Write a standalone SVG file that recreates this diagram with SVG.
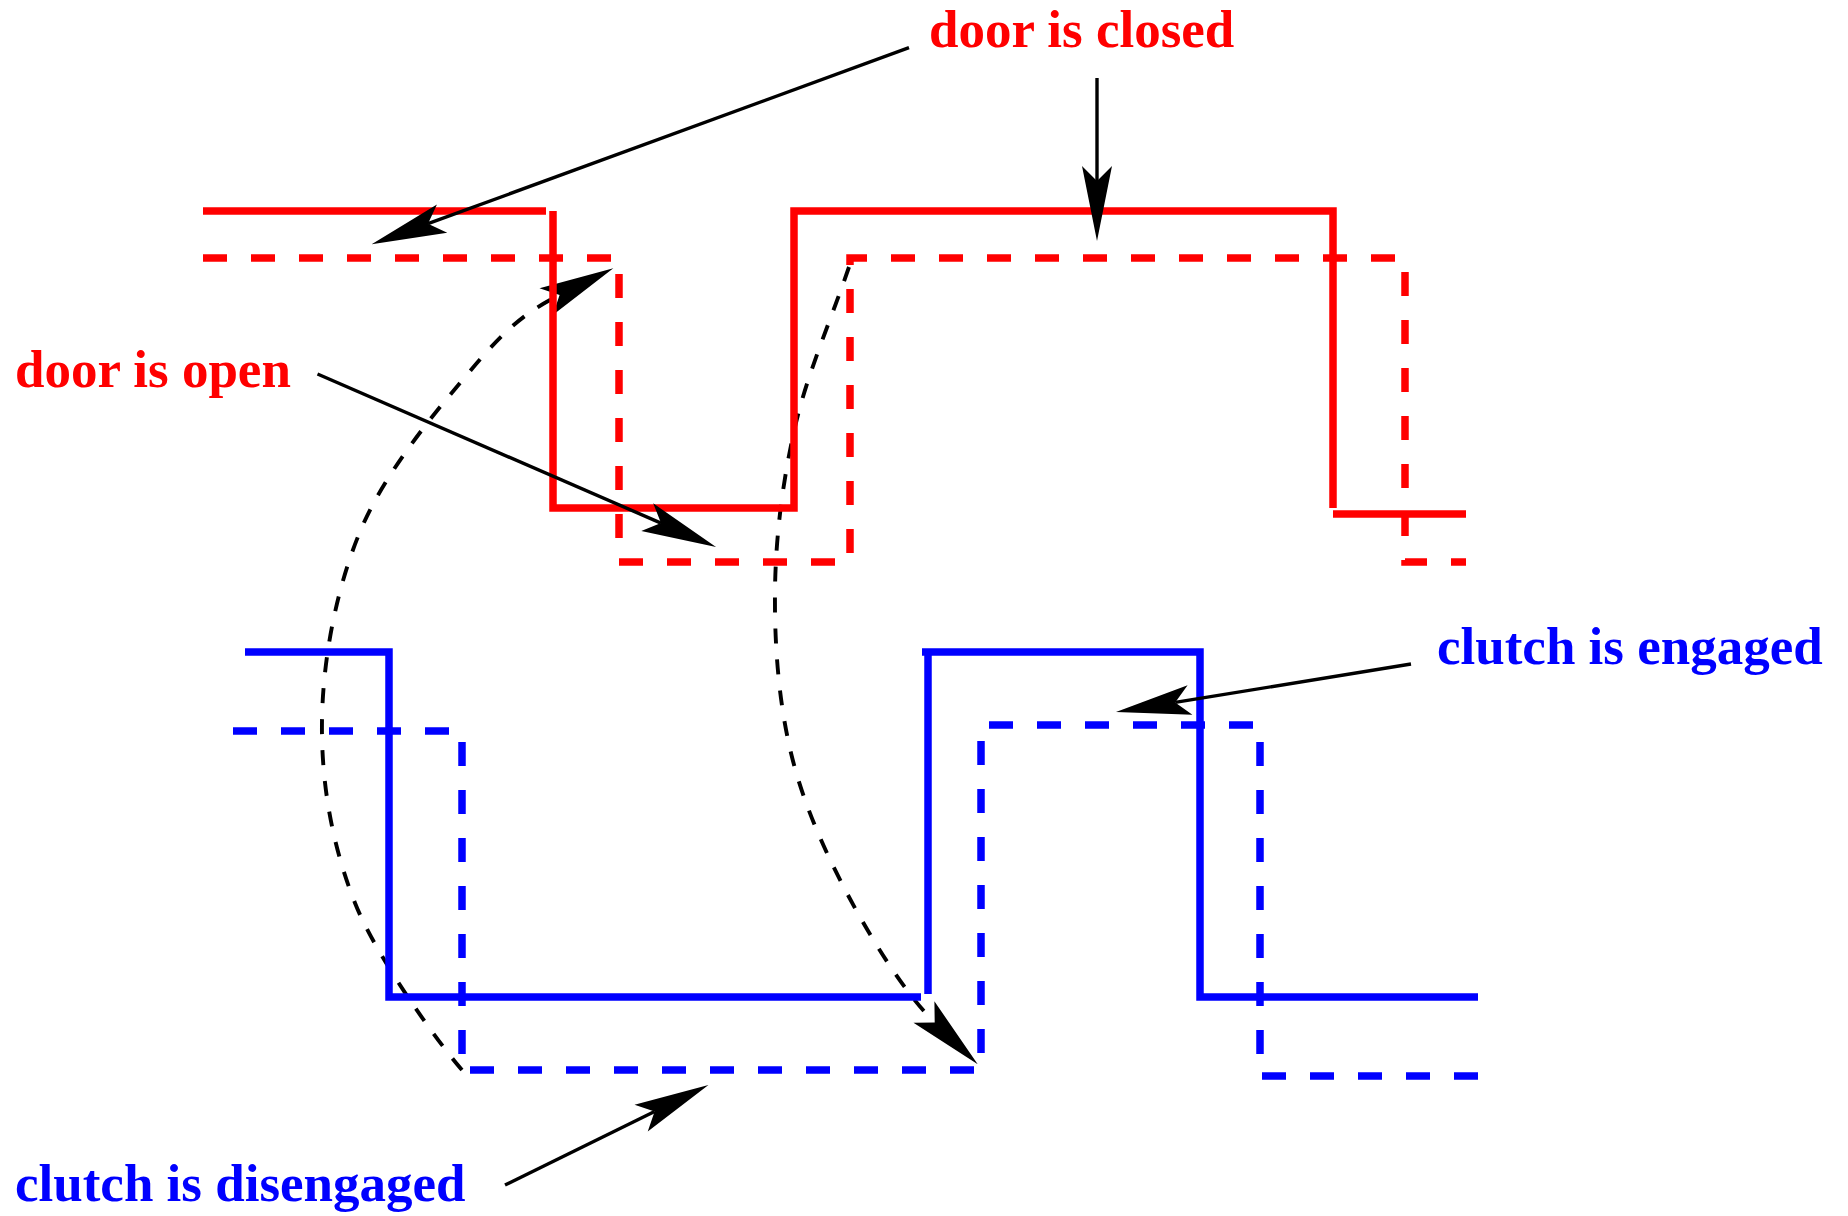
<svg xmlns="http://www.w3.org/2000/svg" width="1848" height="1216" viewBox="0 0 1848 1216">
<defs>
<style>
.sig{fill:none;stroke-width:7.5;stroke-linejoin:miter;stroke-linecap:butt}
.red{stroke:#ff0000}
.blue{stroke:#0000ff}
.dash{stroke-dasharray:24 24}
.arr{fill:none;stroke:#000;stroke-width:3.4;marker-end:url(#ah)}
.curve{fill:none;stroke:#000;stroke-width:3.9;stroke-dasharray:15 16;marker-end:url(#ah)}
.lbl{font-family:"Liberation Serif","Times New Roman",serif;font-weight:bold;font-size:53px}
.lred{fill:#ff0000}
.lblue{fill:#0000ff}
</style>
<marker id="ah" markerUnits="userSpaceOnUse" viewBox="-16 -16 77 32" markerWidth="77" markerHeight="32" refX="0" refY="0" orient="auto" overflow="visible">
<path d="M60,0 L-15,-15 L0,0 L-15,15 Z" fill="#000"/>
</marker>
</defs>
<rect width="1848" height="1216" fill="#fff"/>
<g id="transitions">
<path class="curve" d="M462,1070 C444,1050 378,961 355,903 C332,845 321,783 322,720 C323,657 337,585 362,527 C387,469 438,408.7 471,370 C504,331 523.8,312.8 559.6,295"/>
<path class="curve" d="M849,267 C831,320 807.3,373.2 795,427 C782.7,480.8 775.7,535.7 775,590 C774.3,644.3 778.7,701.8 791,753 C803.3,804.2 825.1,852.1 849,897 C872.9,941.9 906,994.6 934.7,1022.5"/>
</g>
<g id="door-signal">
<path class="sig red" d="M203,211 H546"/>
<path class="sig red" d="M553,211 V508 H794 V211 H1333 V508"/>
<path class="sig red" d="M1333,514 H1466"/>
<path class="sig red dash" d="M203,258 H619 V562 H850 V258 H1405 V562 H1466"/>
</g>
<g id="clutch-signal">
<path class="sig blue" d="M245,652 H389 V997 H921"/>
<path class="sig blue" d="M922,652 H1200 V997 H1478"/>
<path class="sig blue" d="M928,652 V994"/>
<path class="sig blue dash" d="M233,731 H462 V1070 H981 V725 H1260 V1076 H1478"/>
</g>
<g id="connectors">
<path class="arr" d="M909,47.7 L428,223.7"/>
<path class="arr" d="M1097,78 L1097,181"/>
<path class="arr" d="M317.5,374 L661,523.1"/>
<path class="arr" d="M1411,664 L1175.2,702.4"/>
<path class="arr" d="M505,1185 L654.6,1111.5"/>
</g>
<g id="label-door-closed"><text class="lbl lred" x="929" y="47">door is closed</text></g>
<g id="label-door-open"><text class="lbl lred" x="15" y="387">door is open</text></g>
<g id="label-clutch-engaged"><text class="lbl lblue" x="1437" y="664">clutch is engaged</text></g>
<g id="label-clutch-disengaged"><text class="lbl lblue" x="15" y="1201">clutch is disengaged</text></g>
</svg>
